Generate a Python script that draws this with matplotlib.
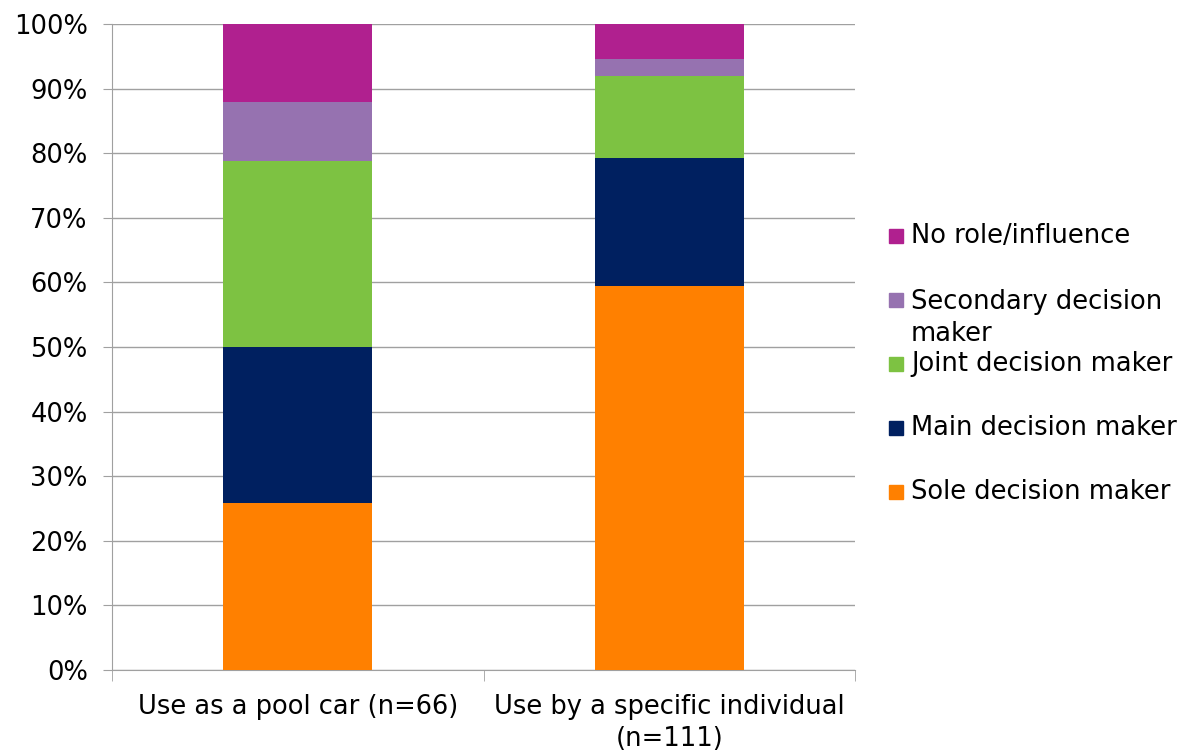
import matplotlib.pyplot as plt
from matplotlib.patches import Rectangle
import numpy as np

# Decision-making role by car usage type (share of respondents)
groups = ['Use as a pool car (n=66)', 'Use by a specific individual\n(n=111)']
roles = ['Sole decision maker', 'Main decision maker', 'Joint decision maker',
         'Secondary decision\nmaker', 'No role/influence']
sole = [25.8, 59.5]
main = [24.2, 19.8]
joint = [28.8, 12.6]
secondary = [9.1, 2.7]
no_role = [12.1, 5.4]

colors = ['#FF8000', '#002060', '#7DC242', '#9672B0', '#B0208F']
y_ticks = [0, 10, 20, 30, 40, 50, 60, 70, 80, 90, 100]

W, H = 1181, 751
fs = 18.5
fig = plt.figure(figsize=(W / 100, H / 100), dpi=100)
ax = fig.add_axes([112 / W, 1 - 670 / H, 743 / W, 646 / H])

x = np.arange(len(groups))
bottom = np.zeros(len(groups))
for vals, col, name in zip([sole, main, joint, secondary, no_role], colors, roles):
    ax.bar(x, vals, 0.4, bottom=bottom, color=col, label=name, zorder=3)
    bottom += np.array(vals)

ax.set_xlim(-0.5, 1.5)
ax.set_ylim(0, 100)
ax.set_yticks(y_ticks)
ax.set_yticklabels([f'{v}%' for v in y_ticks], fontsize=fs)
ax.yaxis.grid(True, color='#A0A0A0', linewidth=1, zorder=0)
ax.tick_params(axis='y', length=6.5, color='#A0A0A0', pad=11)

ax.set_xticks(x)
ax.set_xticklabels(groups, fontsize=fs, linespacing=1.3)
ax.set_xticks([-0.5, 0.5, 1.5], minor=True)
ax.tick_params(axis='x', which='major', length=0, pad=17)
ax.tick_params(axis='x', which='minor', length=8, color='#A0A0A0')

for side in ['top', 'right']:
    ax.spines[side].set_visible(False)
for side in ['left', 'bottom']:
    ax.spines[side].set_color('#A0A0A0')

# Legend drawn by hand so the wrapped entry hangs below its marker like the original
entry_y = [492, 428, 364, 300, 236]   # pixel rows (from top) of each entry's first line
for name, col, py in zip(roles, colors, entry_y):
    fig.patches.append(Rectangle((889 / W, 1 - (py + 7) / H), 14 / W, 14 / H,
                                 color=col, transform=fig.transFigure, figure=fig))
    if '\n' in name:
        fig.text(911 / W, 1 - (py - 11) / H, name, fontsize=fs, va='top',
                 ha='left', linespacing=1.3)
    else:
        fig.text(911 / W, 1 - py / H, name, fontsize=fs, va='center', ha='left')

fig.savefig('out.png', dpi=100)
